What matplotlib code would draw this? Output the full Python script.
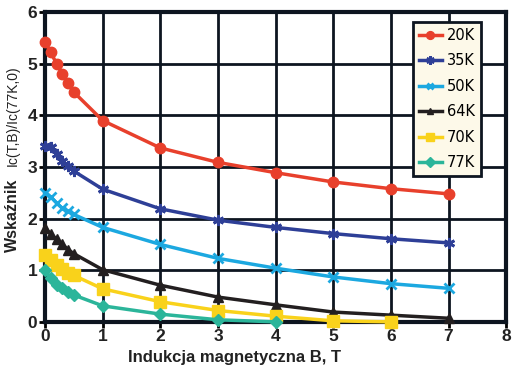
import matplotlib.pyplot as plt

# === Data ===
B = [0, 0.1, 0.2, 0.3, 0.4, 0.5, 1, 2, 3, 4, 5, 6, 7]
k20 = [5.43, 5.22, 5.0, 4.8, 4.62, 4.45, 3.9, 3.37, 3.09, 2.89, 2.71, 2.58, 2.48]
k35 = [3.4, 3.38, 3.25, 3.12, 3.02, 2.92, 2.57, 2.19, 1.97, 1.83, 1.71, 1.61, 1.53]
k50 = [2.5, 2.42, 2.3, 2.2, 2.14, 2.08, 1.83, 1.5, 1.23, 1.04, 0.87, 0.74, 0.65]
k64 = [1.82, 1.7, 1.6, 1.5, 1.4, 1.32, 1.01, 0.71, 0.48, 0.33, 0.19, 0.13, 0.07]
B70 = [0, 0.1, 0.2, 0.3, 0.4, 0.5, 1, 2, 3, 4, 5, 6]
k70 = [1.3, 1.2, 1.1, 1.02, 0.95, 0.9, 0.64, 0.39, 0.22, 0.11, 0.02, 0.0]
B77 = [0, 0.1, 0.2, 0.3, 0.4, 0.5, 1, 2, 3, 4]
k77 = [1.0, 0.85, 0.72, 0.65, 0.58, 0.52, 0.31, 0.15, 0.04, 0.0]
labels = ["20K", "35K", "50K", "64K", "70K", "77K"]

# === Style ===
colors = ["#e8402c", "#2e3f97", "#1ca8e0", "#231f20", "#f9d21b", "#2bb59a"]
markers = ["o", (6, 2, 0), "x", "^", "s", "D"]
msizes = [7.5, 8, 6.5, 6.5, 8.5, 6.5]

plt.rcParams['font.family'] = ['Liberation Sans', 'DejaVu Sans']
fig = plt.figure(figsize=(5.3, 3.8), dpi=100)
ax = fig.add_axes([0.085, 0.153, 0.87, 0.815])

series = [(B, k20), (B, k35), (B, k50), (B, k64), (B70, k70), (B77, k77)]
for (xs, ys), lab, c, m, ms in zip(series, labels, colors, markers, msizes):
    ax.plot(xs, ys, color=c, marker=m, markersize=ms, linewidth=2.5,
            markeredgewidth=2 if m in ("x",) or isinstance(m, tuple) else 1,
            markeredgecolor=c, label=lab, zorder=3, clip_on=False)

ax.set_xlim(0, 8)
ax.set_ylim(0, 6)
ax.set_xticks(range(0, 9))
ax.set_yticks(range(0, 7))
ax.grid(True, color="#0d1520", linewidth=2)
for s in ax.spines.values():
    s.set_linewidth(3)
    s.set_color("#0d1520")
ax.tick_params(direction="out", length=4, width=2, labelsize=12.5, pad=1.5)
for t in ax.get_xticklabels() + ax.get_yticklabels():
    t.set_fontweight("bold")
    t.set_color("#222222")

leg = ax.legend(loc="upper right", bbox_to_anchor=(0.946, 0.968),
                prop={"family": "DejaVu Sans", "size": 10.5},
                frameon=True, fancybox=False, handlelength=1.6, labelspacing=0.72,
                borderpad=0.4, handletextpad=0.35, markerscale=0.75, borderaxespad=0)
leg.get_frame().set_facecolor("#fdf9e9")
leg.get_frame().set_edgecolor("#0d1520")
leg.get_frame().set_linewidth(2)
leg.get_frame().set_alpha(1)

fig.text(0.442, 0.06, "Indukcja magnetyczna B, T", ha="center", va="center",
         fontsize=12, fontweight="bold", color="#222222")
fig.text(0.023, 0.434, "Wskaźnik", rotation=90, ha="center", va="center",
         fontsize=11.5, fontweight="bold", color="#222222")
fig.text(0.025, 0.695, "Ic(T,B)/Ic(77K,0)", rotation=90, ha="center", va="center",
         fontsize=10, color="#222222")

fig.savefig("out.png", dpi=100)
